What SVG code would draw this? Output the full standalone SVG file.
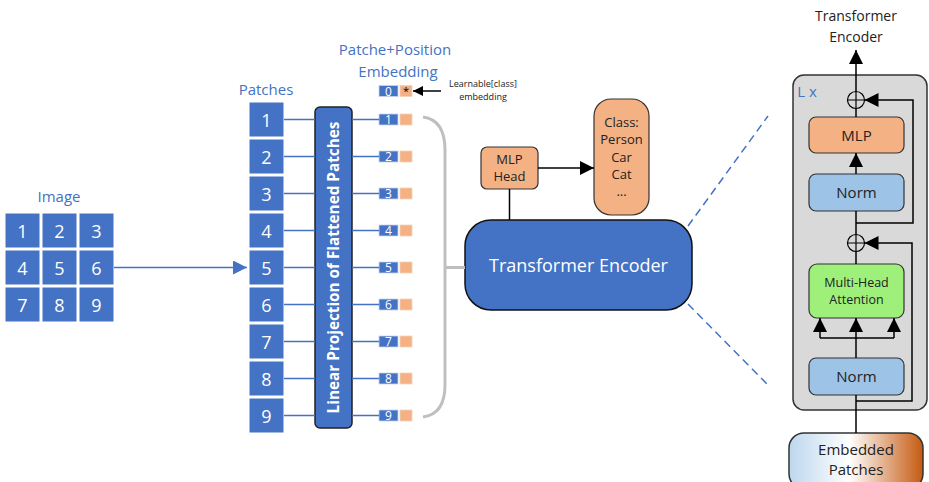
<svg xmlns="http://www.w3.org/2000/svg" width="929" height="482" viewBox="0 0 929 482">
  <defs>
    <style>
      .t { font-family: "Open Sans", "Noto Sans", "Liberation Sans", sans-serif; }
      .blue-lbl { fill: #4472C4; font-size: 15px; text-anchor: middle; }
      .cell { fill: #4472C4; stroke: #ffffff; stroke-width: 1; }
      .cell-txt { fill: #ffffff; font-size: 18px; text-anchor: middle; dominant-baseline: central; }
      .tok-b { fill: #4472C4; stroke: #c8d4ea; stroke-width: 0.8; }
      .tok-o { fill: #F4B183; stroke: #f7d2b8; stroke-width: 0.8; }
      .tok-txt { fill: #ffffff; font-size: 12px; text-anchor: middle; dominant-baseline: central; }
      .link { stroke: #4472C4; stroke-width: 1.5; fill: none; }
      .blk { stroke: #000000; stroke-width: 1.5; fill: none; }
      .dark { fill: #222222; text-anchor: middle; }
      .box-o { fill: #F4B183; stroke: #333333; stroke-width: 1.2; }
      .box-n { fill: #9DC3E6; stroke: #333333; stroke-width: 1.2; }
      .box-g { fill: #9EF07A; stroke: #333333; stroke-width: 1.2; }
      .plus { fill: none; stroke: #000000; stroke-width: 1.2; }
    </style>
    <marker id="arrB" viewBox="0 0 10 10" refX="10" refY="5" markerWidth="10" markerHeight="10" markerUnits="userSpaceOnUse" orient="auto">
      <path d="M0,0 L10,5 L0,10 z" fill="#000000"/>
    </marker>
    <marker id="arrL" viewBox="0 0 10 10" refX="10" refY="5" markerWidth="14" markerHeight="14" markerUnits="userSpaceOnUse" orient="auto">
      <path d="M0,0 L10,5 L0,10 z" fill="#000000"/>
    </marker>
    <marker id="arrBlue" viewBox="0 0 10 10" refX="10" refY="5" markerWidth="14" markerHeight="14" markerUnits="userSpaceOnUse" orient="auto">
      <path d="M0,0 L10,5 L0,10 z" fill="#4472C4"/>
    </marker>
    <linearGradient id="embGrad" x1="0" y1="0" x2="1" y2="0">
      <stop offset="0" stop-color="#BDD7EE"/>
      <stop offset="0.45" stop-color="#FFFFFF"/>
      <stop offset="1" stop-color="#C55A11"/>
    </linearGradient>
  </defs>

  <rect width="929" height="482" fill="#ffffff"/>

  <!-- input image split into a 3x3 grid -->
  <g id="image">
    <text class="t blue-lbl" x="59" y="202">Image</text>
    <rect class="cell" x="5" y="213" width="35" height="35"/>
    <rect class="cell" x="42" y="213" width="35" height="35"/>
    <rect class="cell" x="79" y="213" width="35" height="35"/>
    <rect class="cell" x="5" y="250" width="35" height="35"/>
    <rect class="cell" x="42" y="250" width="35" height="35"/>
    <rect class="cell" x="79" y="250" width="35" height="35"/>
    <rect class="cell" x="5" y="287" width="35" height="35"/>
    <rect class="cell" x="42" y="287" width="35" height="35"/>
    <rect class="cell" x="79" y="287" width="35" height="35"/>
    <text class="t cell-txt" x="22.5" y="231">1</text>
    <text class="t cell-txt" x="59.5" y="231">2</text>
    <text class="t cell-txt" x="96.5" y="231">3</text>
    <text class="t cell-txt" x="22.5" y="268">4</text>
    <text class="t cell-txt" x="59.5" y="268">5</text>
    <text class="t cell-txt" x="96.5" y="268">6</text>
    <text class="t cell-txt" x="22.5" y="305">7</text>
    <text class="t cell-txt" x="59.5" y="305">8</text>
    <text class="t cell-txt" x="96.5" y="305">9</text>
  </g>

  <!-- flattened patch column -->
  <g id="patches">
    <text class="t blue-lbl" x="266" y="95">Patches</text>
    <rect class="cell" x="249" y="102" width="35" height="35"/>
    <rect class="cell" x="249" y="139" width="35" height="35"/>
    <rect class="cell" x="249" y="176" width="35" height="35"/>
    <rect class="cell" x="249" y="213" width="35" height="35"/>
    <rect class="cell" x="249" y="250" width="35" height="35"/>
    <rect class="cell" x="249" y="287" width="35" height="35"/>
    <rect class="cell" x="249" y="324" width="35" height="35"/>
    <rect class="cell" x="249" y="361" width="35" height="35"/>
    <rect class="cell" x="249" y="398" width="35" height="35"/>
    <text class="t cell-txt" x="266.5" y="120">1</text>
    <text class="t cell-txt" x="266.5" y="157">2</text>
    <text class="t cell-txt" x="266.5" y="194">3</text>
    <text class="t cell-txt" x="266.5" y="231">4</text>
    <text class="t cell-txt" x="266.5" y="268">5</text>
    <text class="t cell-txt" x="266.5" y="305">6</text>
    <text class="t cell-txt" x="266.5" y="342">7</text>
    <text class="t cell-txt" x="266.5" y="379">8</text>
    <text class="t cell-txt" x="266.5" y="416">9</text>
  </g>

  <!-- linear projection layer -->
  <g id="projection">
    <rect x="315" y="107" width="37" height="321" rx="5" fill="#4472C4" stroke="#222222" stroke-width="1.5"/>
    <text class="t" x="0" y="0" transform="translate(339,267.5) rotate(-90)" fill="#ffffff" font-size="15.3" font-weight="bold" text-anchor="middle">Linear Projection of Flattened Patches</text>
  </g>

  <!-- patch + position embedding tokens -->
  <g id="tokens">
    <text class="t blue-lbl" x="395" y="55">Patche+Position</text>
    <text class="t blue-lbl" x="398" y="77">Embedding</text>
    <rect class="tok-b" x="379" y="85.5" width="19" height="11"/>
    <rect class="tok-o" x="400" y="85.5" width="12" height="11"/>
    <text class="t tok-txt" x="388.5" y="91">0</text>
    <text class="t" x="406" y="95" font-size="11" text-anchor="middle" fill="#000000">*</text>
    <text class="t" x="483" y="87" font-size="9" text-anchor="middle" fill="#222222">Learnable[class]</text>
    <text class="t" x="483" y="100" font-size="9" text-anchor="middle" fill="#222222">embedding</text>

    <rect class="tok-b" x="379" y="114" width="19" height="11"/><rect class="tok-o" x="400" y="114" width="12" height="11"/><text class="t tok-txt" x="388.5" y="119.5">1</text>
    <rect class="tok-b" x="379" y="151" width="19" height="11"/><rect class="tok-o" x="400" y="151" width="12" height="11"/><text class="t tok-txt" x="388.5" y="156.5">2</text>
    <rect class="tok-b" x="379" y="188" width="19" height="11"/><rect class="tok-o" x="400" y="188" width="12" height="11"/><text class="t tok-txt" x="388.5" y="193.5">3</text>
    <rect class="tok-b" x="379" y="225" width="19" height="11"/><rect class="tok-o" x="400" y="225" width="12" height="11"/><text class="t tok-txt" x="388.5" y="230.5">4</text>
    <rect class="tok-b" x="379" y="262" width="19" height="11"/><rect class="tok-o" x="400" y="262" width="12" height="11"/><text class="t tok-txt" x="388.5" y="267.5">5</text>
    <rect class="tok-b" x="379" y="299" width="19" height="11"/><rect class="tok-o" x="400" y="299" width="12" height="11"/><text class="t tok-txt" x="388.5" y="304.5">6</text>
    <rect class="tok-b" x="379" y="336" width="19" height="11"/><rect class="tok-o" x="400" y="336" width="12" height="11"/><text class="t tok-txt" x="388.5" y="341.5">7</text>
    <rect class="tok-b" x="379" y="373" width="19" height="11"/><rect class="tok-o" x="400" y="373" width="12" height="11"/><text class="t tok-txt" x="388.5" y="378.5">8</text>
    <rect class="tok-b" x="379" y="410" width="19" height="11"/><rect class="tok-o" x="400" y="410" width="12" height="11"/><text class="t tok-txt" x="388.5" y="415.5">9</text>
  </g>

  <!-- main encoder block -->
  <g id="encoder">
    <rect x="465" y="220" width="227" height="90" rx="26" fill="#4472C4" stroke="#111111" stroke-width="1.5"/>
    <text class="t" x="578.5" y="272" fill="#ffffff" font-size="18" text-anchor="middle">Transformer Encoder</text>
  </g>

  <g id="mlp-head">
    <rect class="box-o" x="481" y="147" width="57" height="42" rx="6"/>
    <text class="t dark" x="509.5" y="164" font-size="13">MLP</text>
    <text class="t dark" x="509.5" y="181" font-size="13">Head</text>
  </g>

  <g id="classes">
    <rect class="box-o" x="594" y="99" width="55" height="116" rx="17"/>
    <text class="t dark" x="621.5" y="127" font-size="13">Class:</text>
    <text class="t dark" x="621.5" y="144" font-size="13">Person</text>
    <text class="t dark" x="621.5" y="162" font-size="13">Car</text>
    <text class="t dark" x="621.5" y="179" font-size="13">Cat</text>
    <text class="t dark" x="621.5" y="196" font-size="13">...</text>
  </g>

  <!-- encoder layer detail -->
  <g id="encoder-layer">
    <rect x="793" y="75" width="134" height="335" rx="11" fill="#D9D9D9" stroke="#333333" stroke-width="1.5"/>
    <text class="t" x="807" y="97" fill="#4472C4" font-size="15" text-anchor="middle">L x</text>
  </g>

  <g id="out-label">
    <text class="t dark" x="856" y="21" font-size="14">Transformer</text>
    <text class="t dark" x="856" y="42" font-size="14">Encoder</text>
  </g>

  <g id="add-top">
    <circle class="plus" cx="856" cy="100" r="8.5"/>
    <path d="M847.5,100 H864.5 M856,91.5 V108.5" stroke="#000" stroke-width="1.2"/>
  </g>

  <g id="mlp">
    <rect class="box-o" x="809" y="117" width="95" height="36" rx="7"/>
    <text class="t dark" x="856.5" y="140.5" font-size="15">MLP</text>
  </g>

  <g id="norm-top">
    <rect class="box-n" x="809" y="174" width="95" height="37" rx="7"/>
    <text class="t dark" x="856.5" y="198" font-size="15">Norm</text>
  </g>

  <g id="add-bottom">
    <circle class="plus" cx="856" cy="243" r="8.5"/>
    <path d="M847.5,243 H864.5 M856,234.5 V251.5" stroke="#000" stroke-width="1.2"/>
  </g>

  <g id="attention">
    <rect class="box-g" x="809" y="264" width="95" height="54" rx="8"/>
    <text class="t dark" x="856.5" y="287" font-size="12.5">Multi-Head</text>
    <text class="t dark" x="856.5" y="304" font-size="12.5">Attention</text>
  </g>

  <g id="norm-bottom">
    <rect class="box-n" x="809" y="358" width="95" height="37" rx="7"/>
    <text class="t dark" x="856.5" y="382" font-size="15">Norm</text>
  </g>

  <g id="embedded">
    <rect x="789" y="433" width="134" height="56" rx="15" fill="url(#embGrad)" stroke="#333333" stroke-width="1.5"/>
    <text class="t dark" x="856" y="455" font-size="15">Embedded</text>
    <text class="t dark" x="856" y="475" font-size="15">Patches</text>
  </g>

  <!-- connectors -->
  <g id="connectors">
    <line class="link" x1="114" y1="267.5" x2="247" y2="267.5" marker-end="url(#arrBlue)"/>

    <path class="link" d="M284,119.5 H315 M284,156.5 H315 M284,193.5 H315 M284,230.5 H315 M284,267.5 H315 M284,304.5 H315 M284,341.5 H315 M284,378.5 H315 M284,415.5 H315"/>
    <path class="link" d="M352,119.5 H379 M352,156.5 H379 M352,193.5 H379 M352,230.5 H379 M352,267.5 H379 M352,304.5 H379 M352,341.5 H379 M352,378.5 H379 M352,415.5 H379"/>

    <line class="blk" x1="441" y1="91" x2="413" y2="91" marker-end="url(#arrB)"/>

    <path d="M423,117 Q445,120 445,150 L445,385 Q445,414 423,417 M445,267.5 H465" fill="none" stroke="#BFBFBF" stroke-width="3"/>

    <line class="blk" x1="509.5" y1="189" x2="509.5" y2="220"/>
    <line class="blk" x1="538" y1="168" x2="594" y2="168" marker-end="url(#arrL)"/>

    <line x1="688" y1="226" x2="768" y2="116" stroke="#4472C4" stroke-width="1.5" stroke-dasharray="8 5"/>
    <line x1="688" y1="304" x2="768" y2="385" stroke="#4472C4" stroke-width="1.5" stroke-dasharray="8 5"/>

    <!-- encoder layer flow -->
    <line class="blk" x1="856" y1="433" x2="856" y2="395"/>
    <line class="blk" x1="856" y1="358" x2="856" y2="318" marker-end="url(#arrL)"/>
    <path class="blk" d="M820,338 H894"/>
    <line class="blk" x1="820" y1="338" x2="820" y2="318" marker-end="url(#arrL)"/>
    <line class="blk" x1="894" y1="338" x2="894" y2="318" marker-end="url(#arrL)"/>
    <line class="blk" x1="856" y1="264" x2="856" y2="251.5"/>
    <path class="blk" d="M856,401 H912 V243 H864.5" marker-end="url(#arrL)"/>
    <line class="blk" x1="856" y1="234.5" x2="856" y2="211"/>
    <line class="blk" x1="856" y1="174" x2="856" y2="153" marker-end="url(#arrL)"/>
    <path class="blk" d="M856,223 H913 V100 H864.5" marker-end="url(#arrL)"/>
    <line class="blk" x1="856" y1="117" x2="856" y2="108.5"/>
    <line class="blk" x1="856" y1="91.5" x2="856" y2="50" marker-end="url(#arrL)"/>
  </g>
</svg>
